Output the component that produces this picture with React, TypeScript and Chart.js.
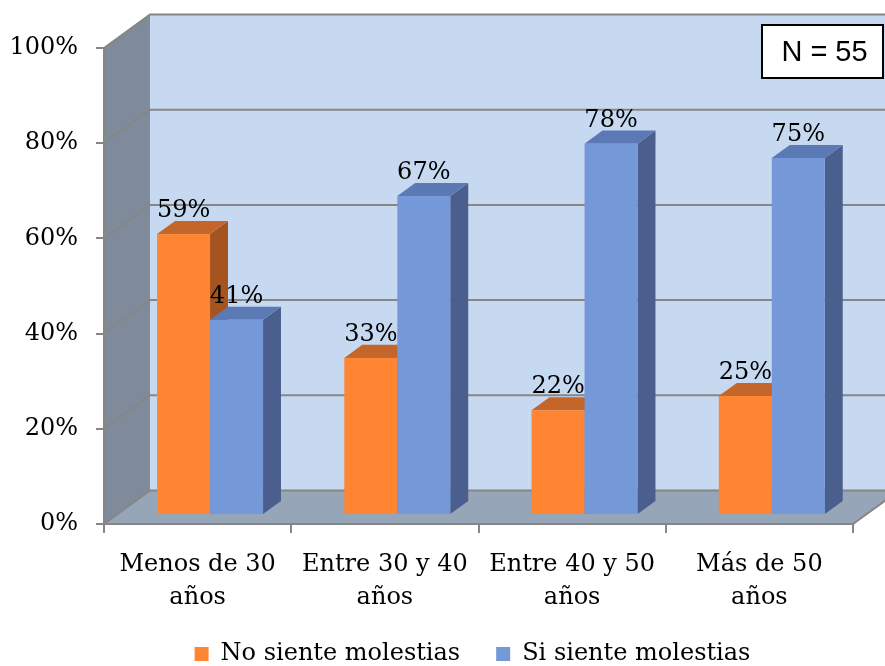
import { useEffect, useRef } from "react";
import { Chart, registerables } from "chart.js";

Chart.register(...registerables);

// Age groups (two-line axis labels)
const categories: string[][] = [
  ["Menos de 30", "años"],
  ["Entre 30 y 40", "años"],
  ["Entre 40 y 50", "años"],
  ["Más de 50", "años"],
];
const seriesNames = ["No siente molestias", "Si siente molestias"];
const noSiente = [59, 33, 22, 25];
const siSiente = [41, 67, 78, 75];
const yTicks = [0, 20, 40, 60, 80, 100];
const sampleNote = "N = 55";

// Face colours per series: front, top, side
const FRONT = ["#FF8533", "#7598D9"];
const TOP = ["#C4662A", "#5B79B4"];
const SIDE = ["#A6541F", "#4A5F8E"];

const BACK_WALL = "#C6D9F1";
const SIDE_WALL = "#7F8B9B";
const FLOOR = "#97A5B8";
const GRID = "#868686";
const SERIF = "'DejaVu Serif', serif";
const FONT_SIZE = 24;

// Depth of the 3D box (back wall offset) and where the bars sit inside it
const DEPTH = { x: 46, y: -33.5 };
const BAR_NEAR = 0.27;
const BAR_FAR = 0.66;

type Pt = [number, number];

function fillPoly(ctx: CanvasRenderingContext2D, pts: Pt[], color: string) {
  ctx.beginPath();
  ctx.moveTo(pts[0][0], pts[0][1]);
  for (let i = 1; i < pts.length; i++) ctx.lineTo(pts[i][0], pts[i][1]);
  ctx.closePath();
  ctx.fillStyle = color;
  ctx.fill();
}

const box3d = {
  id: "box3d",
  afterLayout(chart: any) {
    // centre the legend under the floor of the box rather than the whole canvas
    const lg = chart.legend;
    if (lg) {
      lg.left += DEPTH.x;
      lg.right += DEPTH.x;
    }
  },
  beforeDraw(chart: any) {
    const { ctx, chartArea } = chart;
    const yScale = chart.scales.y;
    const L = chartArea.left;
    const R = chartArea.right;
    const T = chartArea.top;
    const B = chartArea.bottom;
    const dx = DEPTH.x;
    const dy = DEPTH.y;
    ctx.save();
    ctx.fillStyle = BACK_WALL;
    ctx.fillRect(L + dx, T + dy, R - L, B - T);
    fillPoly(ctx, [[L, T], [L + dx, T + dy], [L + dx, B + dy], [L, B]], SIDE_WALL);
    fillPoly(ctx, [[L, B], [R, B], [R + dx, B + dy], [L + dx, B + dy]], FLOOR);

    ctx.strokeStyle = GRID;
    ctx.lineWidth = 2;
    for (const v of yTicks) {
      const py = yScale.getPixelForValue(v);
      ctx.beginPath();
      ctx.moveTo(L, py);
      ctx.lineTo(L + dx, py + dy);
      ctx.lineTo(R + dx, py + dy);
      ctx.stroke();
    }
    ctx.beginPath();
    ctx.moveTo(R, B);
    ctx.lineTo(R + dx, B + dy);
    ctx.stroke();
    ctx.restore();
  },
  beforeDatasetsDraw(chart: any) {
    const { ctx } = chart;
    const fx = DEPTH.x * BAR_NEAR;
    const fy = DEPTH.y * BAR_NEAR;
    const ddx = DEPTH.x * (BAR_FAR - BAR_NEAR);
    const ddy = DEPTH.y * (BAR_FAR - BAR_NEAR);
    ctx.save();
    const n = chart.data.labels.length;
    for (let i = 0; i < n; i++) {
      chart.data.datasets.forEach((ds: any, d: number) => {
        const el = chart.getDatasetMeta(d).data[i];
        const { x, y, base, width } = el.getProps(["x", "y", "base", "width"], true);
        const x1 = x - width / 2 + fx;
        const x2 = x + width / 2 + fx;
        const yt = y + fy;
        const yb = base + fy;
        fillPoly(ctx, [[x2, yt], [x2 + ddx, yt + ddy], [x2 + ddx, yb + ddy], [x2, yb]], SIDE[d]);
        fillPoly(ctx, [[x1, yt], [x2, yt], [x2 + ddx, yt + ddy], [x1 + ddx, yt + ddy]], TOP[d]);
        ctx.fillStyle = FRONT[d];
        ctx.fillRect(x1, yt, x2 - x1, yb - yt);

        ctx.fillStyle = "#000";
        ctx.font = `${FONT_SIZE}px ${SERIF}`;
        ctx.textAlign = "center";
        ctx.textBaseline = "alphabetic";
        ctx.fillText(`${ds.data[i]}%`, (x1 + x2) / 2, yt + ddy - 4);
      });
    }
    ctx.restore();
    return false;
  },
  afterDraw(chart: any) {
    const { ctx, chartArea } = chart;
    const bx = chartArea.right - 91;
    const by = chartArea.top - 23;
    const bw = 121;
    const bh = 53;
    ctx.save();
    ctx.fillStyle = "#fff";
    ctx.fillRect(bx, by, bw, bh);
    ctx.strokeStyle = "#000";
    ctx.lineWidth = 2;
    ctx.strokeRect(bx, by, bw, bh);
    ctx.fillStyle = "#000";
    ctx.font = "29px 'Liberation Sans', sans-serif";
    ctx.textAlign = "center";
    ctx.textBaseline = "middle";
    ctx.fillText(sampleNote, bx + bw / 2 + 2, by + bh / 2 + 1);
    ctx.restore();
  },
};

export default function App() {
  const canvasRef = useRef<HTMLCanvasElement | null>(null);

  useEffect(() => {
    document.body.style.margin = "0";
    const canvas = canvasRef.current;
    if (!canvas) return;
    const chart = new Chart(canvas, {
      type: "bar",
      data: {
        labels: categories,
        datasets: [
          { label: seriesNames[0], data: noSiente, backgroundColor: FRONT[0], borderWidth: 0 },
          { label: seriesNames[1], data: siSiente, backgroundColor: FRONT[1], borderWidth: 0 },
        ],
      },
      options: {
        responsive: false,
        animation: false,
        events: [],
        layout: { padding: { top: 48, right: 32, left: 0, bottom: -10 } },
        datasets: { bar: { categoryPercentage: 0.566, barPercentage: 1 } },
        scales: {
          x: {
            offset: true,
            grid: {
              offset: true,
              drawOnChartArea: false,
              drawTicks: true,
              tickLength: 9,
              tickColor: GRID,
              lineWidth: 2,
            },
            border: { display: true, color: GRID, width: 2 },
            ticks: {
              color: "#000",
              padding: 15,
              maxRotation: 0,
              autoSkip: false,
              font: { family: SERIF, size: FONT_SIZE, lineHeight: 1.375 },
            },
            afterFit: (scale: any) => {
              scale.height = 82;
            },
          },
          y: {
            min: 0,
            max: 100,
            grid: {
              drawOnChartArea: false,
              drawTicks: true,
              tickLength: 8,
              tickColor: GRID,
              lineWidth: 2,
            },
            border: { display: true, color: GRID, width: 2 },
            ticks: {
              stepSize: 20,
              color: "#000",
              padding: 18,
              font: { family: SERIF, size: FONT_SIZE },
              callback: (v: any) => `${v}%`,
            },
            afterFit: (scale: any) => {
              scale.width = 104;
            },
          },
        },
        plugins: {
          legend: {
            position: "bottom",
            labels: {
              boxWidth: 14,
              boxHeight: 14,
              padding: 36,
              color: "#000",
              font: { family: SERIF, size: FONT_SIZE },
            },
          },
          tooltip: { enabled: false },
        },
      },
      plugins: [box3d],
    });
    return () => chart.destroy();
  }, []);

  return (
    <div style={{ width: 885, height: 666 }}>
      <canvas ref={canvasRef} width={885} height={666} />
    </div>
  );
}
